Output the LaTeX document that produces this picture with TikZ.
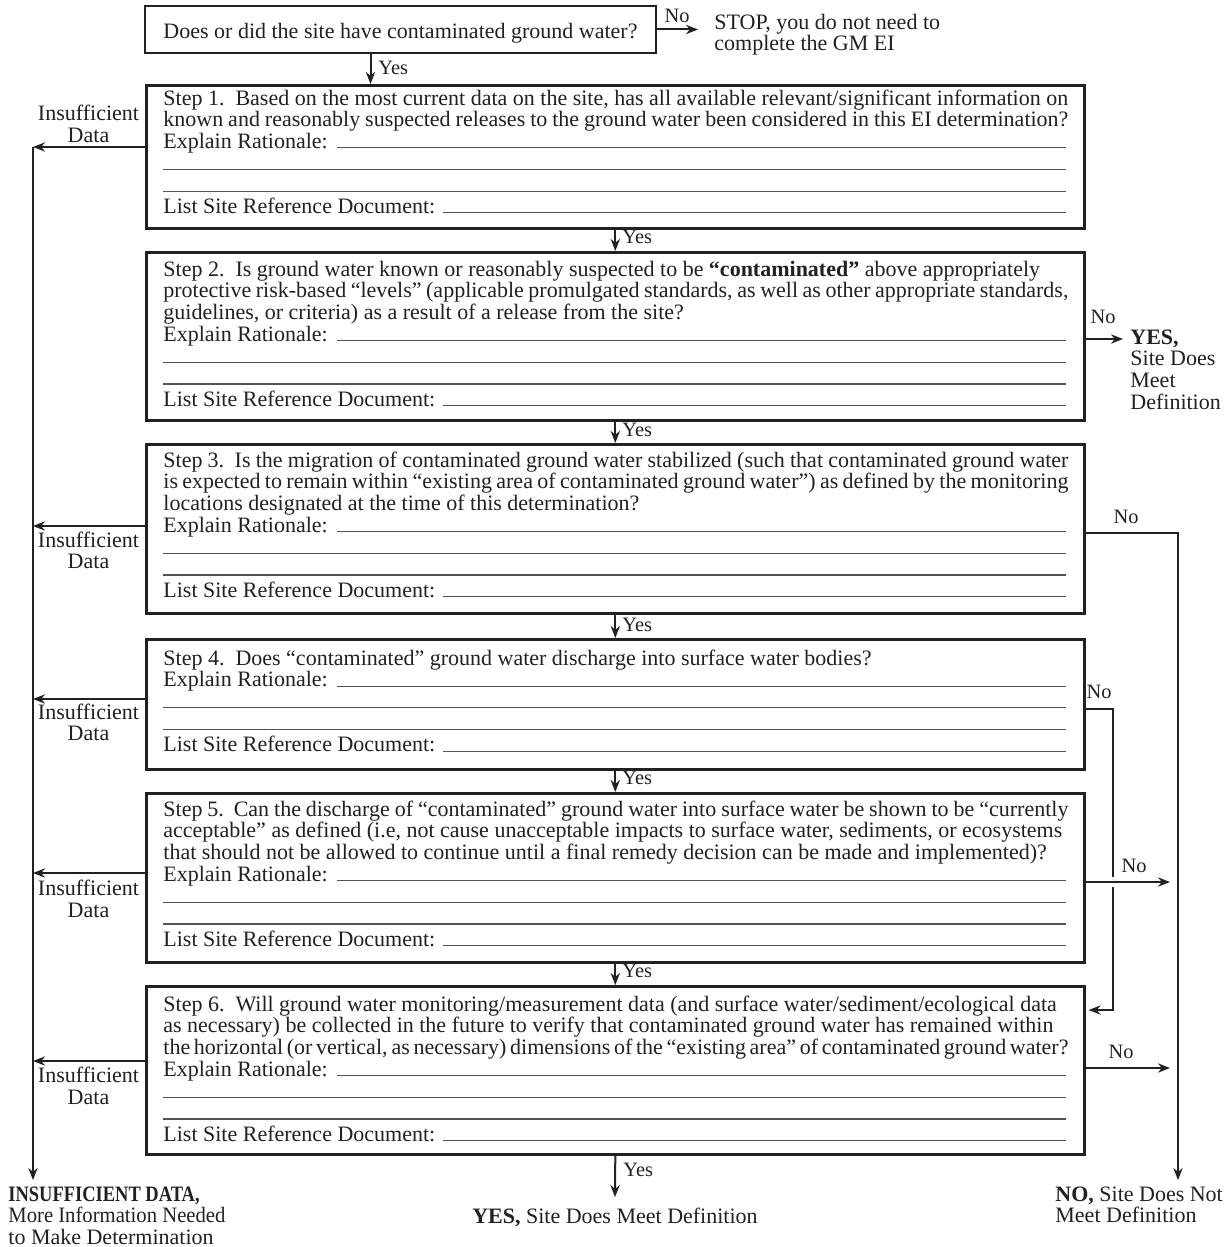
\documentclass[tikz,border=0pt]{standalone}
\usepackage{fontspec}
\usepackage{graphicx}
\setmainfont{Liberation Serif}
\usetikzlibrary{arrows.meta}

\definecolor{ink}{gray}{0.13}
\definecolor{rulegray}{gray}{0.32}

% a writing line that runs to the right margin of the form text
\newcommand\fillrule{{\color{rulegray}\leaders\hrule height 0.55pt\hskip 0pt plus 1fill}\null}
% one printed line of a question; long lines are tightened to the margin
\newlength\linemax
\setlength\linemax{452.5pt}
\newcommand\qline[1]{\leavevmode\sbox0{#1}\ifdim\wd0>\linemax\hbox to\linemax{#1}\else\box0\fi}
% the common tail of every step: rationale and reference lines
\newcommand\formtail{%
  \mbox{Explain Rationale:}\hspace{4.5pt}\fillrule\\
  \mbox{}\fillrule\\
  \mbox{}\fillrule\\
  \mbox{List Site Reference Document:}\hspace{4pt}\fillrule}
\newcommand\steptext[1]{\parbox[t]{451.5pt}{\fontsize{11}{10.85}\selectfont #1}}

\begin{document}
\begin{tikzpicture}[x=0.5pt, y=-0.5pt,
  stepbox/.style={draw=ink, line width=1.3pt, anchor=north west,
    minimum width=469pt, inner sep=0pt},
  qbox/.style={draw=ink, line width=1.3pt, minimum width=255.5pt,
    minimum height=23.5pt, inner sep=0pt, text=ink,
    text height=9.5pt, text depth=0.5pt,
    font=\fontsize{11}{12}\selectfont},
  body/.style={anchor=base west, inner sep=0pt, text=ink},
  line/.style={draw=ink, line width=1pt},
  arr/.style={line, -{Stealth[length=6pt, width=4.6pt]}},
  lbl/.style={font=\fontsize{10.2}{11}\selectfont, text=ink, inner sep=0pt},
  side/.style={align=center, font=\fontsize{11}{10.85}\selectfont,
    text=ink, inner sep=0pt},
  outcome/.style={anchor=base west, inner xsep=0pt, inner ysep=3pt, text=ink},
]
\fill[white] (0,0) rectangle (1231,1247);
\useasboundingbox (0,0) rectangle (1231,1247);

% ---------- entry question ----------
\node[qbox] (q0) at (400.5,29.5) {Does or did the site have contaminated ground water?};
\node[body, inner xsep=8pt] (stop) at (698,30)
  {\parbox[t]{150pt}{\fontsize{11}{10.4}\selectfont STOP, you do not need to\\complete the GM EI}};
\draw[arr] (q0.east) -- (q0.east -| stop.west);
\node[lbl] (n0) at (677,16) {No};

% ---------- step boxes ----------
\node[stepbox, minimum height=71.5pt] (s1) at (145,84) {};
\node[stepbox, minimum height=84pt]   (s2) at (145,251) {};
\node[stepbox, minimum height=84.5pt] (s3) at (145,443) {};
\node[stepbox, minimum height=65pt]   (s4) at (145,638) {};
\node[stepbox, minimum height=84.5pt] (s5) at (145,792) {};
\node[stepbox, minimum height=84pt]   (s6) at (145,985) {};

\node[body] (t1) at (163,105) {\steptext{%
  \qline{Step 1.~~Based on the most current data on the site, has all available relevant/significant information on}\\
  \qline{known and reasonably suspected releases to the ground water been considered in this EI determination?}\\
  \formtail}};
\node[body] (t2) at (163,276) {\steptext{%
  \qline{Step 2.~~Is ground water known or reasonably suspected to be \textbf{“contaminated”} above appropriately}\\
  \qline{protective risk-based “levels” (applicable promulgated standards, as well as other appropriate standards,}\\
  \qline{guidelines, or criteria) as a result of a release from the site?}\\
  \formtail}};
\node[body] (t3) at (163,467) {\steptext{%
  \qline{Step 3.~~Is the migration of contaminated ground water stabilized (such that contaminated ground water}\\
  \qline{is expected to remain within “existing area of contaminated ground water”) as defined by the monitoring}\\
  \qline{locations designated at the time of this determination?}\\
  \formtail}};
\node[body] (t4) at (163,665) {\steptext{%
  \qline{Step 4.~~Does “contaminated” ground water discharge into surface water bodies?}\\
  \formtail}};
\node[body] (t5) at (163,816) {\steptext{%
  \qline{Step 5.~~Can the discharge of “contaminated” ground water into surface water be shown to be “currently}\\
  \qline{acceptable” as defined (i.e, not cause unacceptable impacts to surface water, sediments, or ecosystems}\\
  \qline{that should not be allowed to continue until a final remedy decision can be made and implemented)?}\\
  \formtail}};
\node[body] (t6) at (163,1011) {\steptext{%
  \qline{Step 6.~~Will ground water monitoring/measurement data (and surface water/sediment/ecological data}\\
  \qline{as necessary) be collected in the future to verify that contaminated ground water has remained within}\\
  \qline{the horizontal (or vertical, as necessary) dimensions of the “existing area” of contaminated ground water?}\\
  \formtail}};

% ---------- outcomes ----------
\node[outcome] (insuf) at (8,1201) {\parbox[t]{130pt}{\fontsize{11}{10.85}\selectfont
  \scalebox{0.84}[1]{\textbf{INSUFFICIENT DATA,}}\\
  \scalebox{0.94}[1]{More Information Needed}\\
  to Make Determination}};
\node[anchor=base, inner sep=5pt, text=ink, font=\fontsize{11}{12}\selectfont] (yesend) at (615,1223)
  {\textbf{YES,} Site Does Meet Definition};
\node[outcome] (noend) at (1055,1201) {\parbox[t]{100pt}{\fontsize{11}{10.85}\selectfont
  \textbf{NO,} Site Does Not\\Meet Definition}};
\node[body, inner xsep=3.5pt] (yes2) at (1123,344) {\parbox[t]{60pt}{\fontsize{11}{10.85}\selectfont
  \textbf{YES,}\\Site Does\\Meet\\Definition}};

% ---------- Yes path down the middle ----------
\draw[arr] ([xshift=-15pt]q0.south) -- ([xshift=-15pt]q0.south |- s1.north);
\node[lbl, anchor=west] (y0) at (378,68) {Yes};
\draw[arr] (s1.south) -- (s2.north);
\draw[arr] (s2.south) -- (s3.north);
\draw[arr] (s3.south) -- (s4.north);
\draw[arr] (s4.south) -- (s5.north);
\draw[arr] (s5.south) -- (s6.north);
\draw[arr] (s6.south) -- (yesend.north);
\node[lbl, anchor=west] (y1) at (622,237) {Yes};
\node[lbl, anchor=west] (y2) at (622,430) {Yes};
\node[lbl, anchor=west] (y3) at (622,625) {Yes};
\node[lbl, anchor=west] (y4) at (622,778) {Yes};
\node[lbl, anchor=west] (y5) at (622,971) {Yes};
\node[lbl, anchor=west] (y6) at (623,1170) {Yes};

% ---------- insufficient data trunk on the left ----------
\coordinate (i1) at (33,147);
\coordinate (i3) at (33,526);
\coordinate (i4) at (33,699);
\coordinate (i5) at (33,873);
\coordinate (i6) at (33,1061);
\draw[arr] (i1) -- (i1 |- insuf.north);
\draw[arr] (s1.west |- i1) -- (i1);
\draw[arr] (s3.west |- i3) -- (i3);
\draw[arr] (s4.west |- i4) -- (i4);
\draw[arr] (s5.west |- i5) -- (i5);
\draw[arr] (s6.west |- i6) -- (i6);
\node[side] (d1) at (88.5,124) {Insufficient\\Data};
\node[side] (d3) at (88.5,550.5) {Insufficient\\Data};
\node[side] (d4) at (88.5,722.5) {Insufficient\\Data};
\node[side] (d5) at (88.5,899) {Insufficient\\Data};
\node[side] (d6) at (88.5,1086) {Insufficient\\Data};

% ---------- No branches on the right ----------
\coordinate (r2) at (1123,339);
\draw[arr] (s2.east |- r2) -- (r2 -| yes2.west);
\node[lbl] (n2) at (1103,317) {No};

\coordinate (r3) at (1178,533);
\draw[arr] (s3.east |- r3) -- (r3) -- (r3 |- noend.north);
\node[lbl] (n3) at (1126,517) {No};

\coordinate (r4a) at (1113,709);
\coordinate (r4b) at (1113,1010);
\coordinate (r5) at (1170,882);
\draw[line] (s4.east |- r4a) -- (r4a) -- ([yshift=2.5pt]r4a |- r5);
\draw[arr] ([yshift=-2.5pt]r4a |- r5) -- (r4b) -- ([xshift=1.5pt]s6.east |- r4b);
\node[lbl] (n4) at (1099,692) {No};

\draw[arr] (s5.east |- r5) -- (r5);
\node[lbl] (n5) at (1134,866) {No};

\coordinate (r6) at (1170,1068);
\draw[arr] (s6.east |- r6) -- (r6);
\node[lbl] (n6) at (1121,1052) {No};
\end{tikzpicture}
\end{document}
